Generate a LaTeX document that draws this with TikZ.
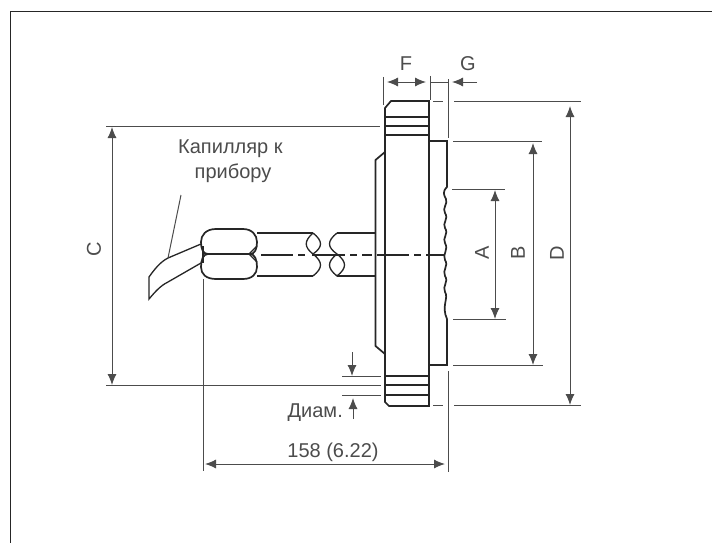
\documentclass[tikz,border=0pt]{standalone}
\usepackage{fontspec}
\setmainfont{Liberation Sans}
\usetikzlibrary{arrows.meta}
\tikzset{
  part/.style={line width=1.7pt,draw=black!85},
  thin part/.style={line width=1.3pt,draw=black!85},
  dim/.style={line width=1pt,draw=black!70},
  dimarrow/.style={dim,{Latex[length=11pt,width=9pt]}-{Latex[length=11pt,width=9pt]}},
  endarrow/.style={dim,-{Latex[length=11pt,width=9pt]}},
  lbl/.style={font=\fontsize{20}{24}\selectfont,text=black!70,inner sep=0pt},
}
\begin{document}
\begin{tikzpicture}[x=1pt,y=-1pt]
  \useasboundingbox (0,0) rectangle (712,543);
  \fill[white] (0,0) rectangle (712,543);
  % frame
  \draw[line width=1.5pt,black!85] (712,11.5) -- (10.5,11.5) -- (10.5,543);

  % flange
  \draw[part] (385,108) -- (391,101) -- (429,101) -- (429,406) -- (389,406) -- (385,402) -- cycle;
  \draw[part] (385,117) -- (429,117);
  \draw[thin part] (385,126) -- (429,126);
  \draw[part] (385,135) -- (429,135);
  \draw[part] (385,376) -- (429,376);
  \draw[thin part] (385,385) -- (429,385);
  \draw[part] (385,395) -- (429,395);
  % collar
  \draw[part] (385,152) -- (375.5,160) -- (375.5,346) -- (385,354);
  % face
  \draw[part] (429,141) -- (447,141) -- (447,187)
    .. controls (442,192) and (444,195) .. (446,199)
    .. controls (448,204) and (442,208) .. (445,213)
    .. controls (449,219) and (442,223) .. (445,228)
    .. controls (449,234) and (442,238) .. (445,243)
    .. controls (449,250) and (442,254) .. (445,260)
    .. controls (449,266) and (442,270) .. (445,276)
    .. controls (449,282) and (442,286) .. (445,292)
    .. controls (449,298) and (441,306) .. (447,319)
    -- (447,365) -- (429,365);
  % tube
  \draw[thin part] (257,233) -- (313,233);
  \draw[thin part] (257,276) -- (313,276);
  \draw[thin part] (337,233) -- (375,233);
  \draw[thin part] (337,276) -- (375,276);
  \draw[thin part] (313,233) .. controls (323,241) and (323,247) .. (313,254)
    .. controls (304,247) and (304,241) .. (313,233);
  \draw[thin part] (313,254) .. controls (323,262) and (323,268) .. (313,276);
  \draw[thin part] (337,233) .. controls (327,241) and (327,247) .. (337,254)
    .. controls (327,262) and (327,268) .. (337,276)
    .. controls (347,268) and (347,262) .. (337,254);
  % nut
  \draw[part] (216,229) -- (243,229) .. controls (252,229) and (257,235) .. (257,242)
    .. controls (257,249) and (255,254) .. (250,254) -- (208,254)
    .. controls (203,254) and (201,249) .. (201,242)
    .. controls (201,235) and (206,229) .. (216,229) -- cycle;
  \draw[part] (208,254) -- (250,254) .. controls (255,254) and (257,260) .. (257,267)
    .. controls (257,274) and (252,279) .. (243,279) -- (216,279)
    .. controls (206,279) and (201,274) .. (201,267)
    .. controls (201,260) and (203,254) .. (208,254) -- cycle;
  \draw[thin part] (203,246) -- (203,263);
  \draw[thin part] (257,246) -- (249,254) -- (257,262);
  % capillary
  \draw[thin part] (201,244) -- (168,258) .. controls (160,262) and (154,270) .. (149,277)
    -- (149,299) .. controls (155,292) and (160,286) .. (168,282) -- (201,263);
  % centre line
  \draw[line width=1.1pt,black!85,dash pattern=on 32pt off 5pt on 7pt off 7pt on 33pt off 5pt on 7pt off 5pt on 10pt off 5pt on 32pt off 5pt on 7pt off 5pt on 18pt]
    (261,255) -- (444,255);

  % nodes
  \node[lbl,anchor=base west] (capillary) at (178,153) {Капилляр к};
  \node[lbl,anchor=base] (capillary2) at (233,178) {прибору};
  \coordinate (leadS) at (181,195);
  \coordinate (leadE) at (168,258);
  \draw[dim] (leadS) -- (leadE);

  % C
  \coordinate (cT) at (106,126);
  \coordinate (cB) at (106,385);
  \draw[dim] (cT) -- (380,126);
  \draw[dim] (cB) -- (381,385);
  \coordinate (cTa) at (112,127);
  \coordinate (cBa) at (112,385);
  \draw[dimarrow] (cTa) -- (cBa);
  \node[lbl,rotate=90] (C) at (94,249) {C};

  % F G
  \coordinate (fL) at (383,77);
  \coordinate (fLb) at (383,105);
  \coordinate (fR) at (430,76);
  \coordinate (fRb) at (430,100);
  \coordinate (gR) at (448,79);
  \coordinate (gRb) at (448,138);
  \draw[dim] (fL) -- (fLb);
  \draw[dim] (fR) -- (fRb);
  \draw[dim] (gR) -- (gRb);
  \coordinate (fA) at (387,82);
  \coordinate (fB) at (426,82);
  \draw[dimarrow] (fA) -- (fB);
  \draw[dim] (fR |- fA) -- (gR |- fA);
  \coordinate (gA) at (477,82);
  \coordinate (gB) at (452,82);
  \draw[endarrow] (gA) -- (gB);
  \node[lbl] (F) at (406,64) {F};
  \node[lbl] (G) at (468,64) {G};

  % A B D
  \draw[dim] (452,189) -- (505,189);
  \draw[dim] (453,319) -- (506,319);
  \draw[dim] (453,141) -- (542,141);
  \draw[dim] (453,365) -- (543,365);
  \draw[dim] (433,101) -- (443,101);
  \draw[dim] (433,405) -- (443,405);
  \draw[dim] (454,101) -- (581,101);
  \draw[dim] (454,405) -- (581,405);
  \coordinate (aT) at (495,190);
  \coordinate (aB) at (495,319);
  \coordinate (bT) at (533,143);
  \coordinate (bB) at (533,365);
  \coordinate (dT) at (570,106);
  \coordinate (dB) at (570,405);
  \draw[dimarrow] (aT) -- (aB);
  \draw[dimarrow] (bT) -- (bB);
  \draw[dimarrow] (dT) -- (dB);
  \node[lbl,rotate=90] (A) at (482,253) {A};
  \node[lbl,rotate=90] (B) at (518,253) {B};
  \node[lbl,rotate=90] (D) at (557,253) {D};

  % bolt hole
  \draw[dim] (342,376) -- (381,376);
  \draw[dim] (342,395) -- (381,395);
  \coordinate (dmT) at (352,352);
  \coordinate (dmB) at (352,376);
  \coordinate (dnT) at (353,419);
  \coordinate (dnB) at (353,398);
  \draw[endarrow] (dmT) -- (dmB);
  \draw[endarrow] (dnT) -- (dnB);
  \node[lbl,anchor=base east] (diam) at (343,417) {Диам.};

  % overall length
  \coordinate (lL) at (203,279);
  \coordinate (lLb) at (203,471);
  \coordinate (lR) at (448,371);
  \coordinate (lRb) at (448,472);
  \draw[dim] (lL) -- (lLb);
  \draw[dim] (lR) -- (lRb);
  \coordinate (lA) at (205,464);
  \coordinate (lB) at (445,464);
  \draw[dimarrow] (lA) -- (lB);
  \node[lbl,anchor=base] (len) at (333,457) {158 (6.22)};
\end{tikzpicture}
\end{document}
